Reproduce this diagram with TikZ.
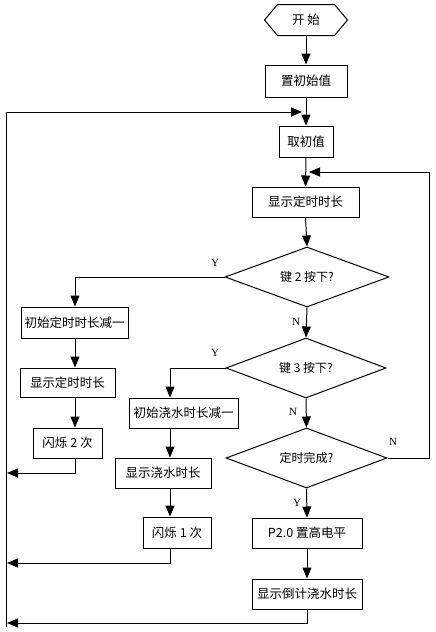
\documentclass[tikz,border=0pt]{standalone}
\usepackage{fontspec}
\setmainfont{Liberation Serif}
\newfontfamily\cjk{Noto Sans CJK SC}
\usetikzlibrary{shapes.geometric,arrows.meta}
\begin{document}
\begin{tikzpicture}[x=1pt,y=-1pt,
  line width=1pt,
  arr/.style={-{Triangle[length=11pt,width=9pt]}},
  box/.style={draw,rectangle,inner sep=0pt,font=\cjk\fontsize{12.5}{14}\selectfont},
  dia/.style={draw,diamond,inner sep=0pt,aspect=2.7,font=\cjk\fontsize{12}{14}\selectfont},
  lbl/.style={font=\fontsize{11}{12}\selectfont,inner sep=0pt}]
\useasboundingbox (0,0) rectangle (436,632);
\fill[white] (0,0) rectangle (436,632);
% start hexagon
\node[inner sep=0pt,minimum width=82pt,minimum height=30pt,font=\cjk\fontsize{12.5}{14}\selectfont] (start) at (306,20) {开\ 始};
\draw (start.west) -- ([xshift=13pt]start.north west) -- ([xshift=-13pt]start.north east) -- (start.east) -- ([xshift=-13pt]start.south east) -- ([xshift=13pt]start.south west) -- cycle;
\node[box,minimum width=82pt,minimum height=32pt] (init) at (306,81) {置初始值};
\node[box,minimum width=54pt,minimum height=31pt] (get) at (306,141.5) {取初值};
\node[box,minimum width=107pt,minimum height=30pt] (show) at (305.5,202) {显示定时时长};
\node[dia,minimum width=164pt,minimum height=60pt] (k2) at (307,277) {键 2 按下?};
\node[dia,minimum width=160pt,minimum height=60pt] (k3) at (306,368) {键 3 按下?};
\node[dia,minimum width=161pt,minimum height=60pt] (done) at (306.5,458) {定时完成?};
\node[box,minimum width=107pt,minimum height=31pt] (a1) at (74.5,322.5) {初始定时时长减一};
\node[box,minimum width=95pt,minimum height=29pt] (a2) at (67.5,382.5) {显示定时时长};
\node[box,minimum width=69pt,minimum height=30pt] (a3) at (67.5,443) {闪烁 2 次};
\node[box,minimum width=109pt,minimum height=30pt] (b1) at (183.5,413) {初始浇水时长减一};
\node[box,minimum width=96pt,minimum height=30pt] (b2) at (163,473) {显示浇水时长};
\node[box,minimum width=68pt,minimum height=31pt] (b3) at (177,532.5) {闪烁 1 次};
\node[box,minimum width=110pt,minimum height=30pt] (c1) at (307,533) {P2.0 置高电平};
\node[box,minimum width=110pt,minimum height=30pt] (c2) at (307,594) {显示倒计浇水时长};
% coordinates
\coordinate (Ltop) at (6,112);
\coordinate (Lbot) at (6,627);
\coordinate (ya) at (75,0);
\coordinate (yb) at (170,0);
\coordinate (rx) at (429,0);
% main flow
\draw[arr] (start.south) -- (init.north);
\draw[arr] (init.south) -- (get.north);
\draw[arr] (get.south) -- (show.north);
\draw[arr] (show.south) -- (k2.north);
\draw[arr] (k2.south) -- (k3.north);
\draw[arr] (k3.south) -- (done.north);
\draw[arr] (done.south) -- (c1.north);
\draw[arr] (c1.south) -- (c2.north);
% return line
\draw[arr] (Lbot) -- (Ltop) -- ([xshift=-4pt]Ltop -| get.north);
% right loop
\draw[arr] (done.east) -- (done.east -| rx) -- (rx |- 0,172) -- ([xshift=3pt]get.south |- 0,172);
% key2 branch
\draw[arr] (k2.west) -- (k2.west -| ya) -- (ya |- a1.north);
\draw[arr] (ya |- a1.south) -- (ya |- a2.north);
\draw[arr] (ya |- a2.south) -- (ya |- a3.north);
\draw[arr] (ya |- a3.south) -- (ya |- 0,473) -- (7,473);
% key3 branch
\draw[arr] (k3.west) -- (k3.west -| yb) -- (yb |- b1.north);
\draw[arr] (yb |- b1.south) -- (yb |- b2.north);
\draw[arr] (yb |- b2.south) -- (yb |- b3.north);
\draw[arr] (yb |- b3.south) -- (yb |- 0,563) -- (7,563);
% bottom
\draw[arr] (c2.south) -- (c2.south |- 0,623) -- (7,623);
% labels
\node[lbl] (y1) at (215,263) {Y};
\node[lbl] (n1) at (296,322) {N};
\node[lbl] (y2) at (215,353) {Y};
\node[lbl] (n2) at (293,412) {N};
\node[lbl] (n3) at (393,442) {N};
\node[lbl] (y3) at (297,503) {Y};
\end{tikzpicture}
\end{document}
